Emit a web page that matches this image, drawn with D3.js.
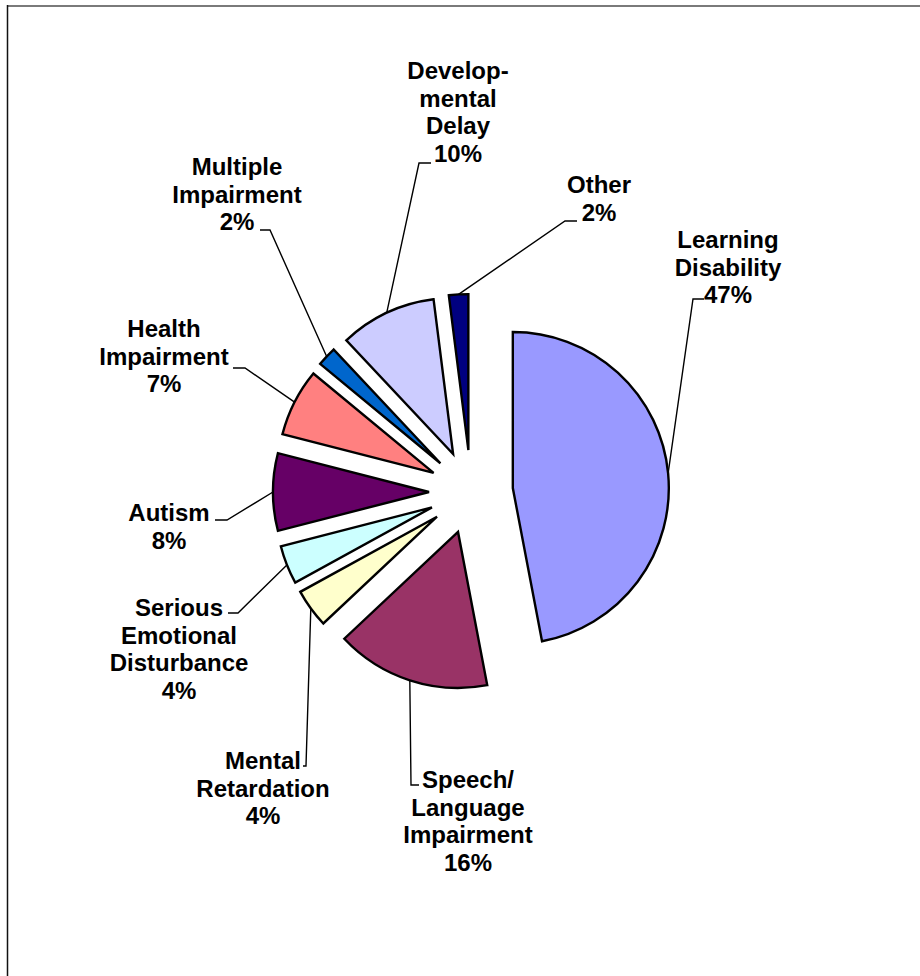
<!DOCTYPE html>
<html>
<head>
<meta charset="utf-8">
<script src="https://cdn.jsdelivr.net/npm/d3@7"></script>
<style>
  html, body { margin: 0; padding: 0; background: #fff; }
  svg { display: block; }
</style>
</head>
<body>
<svg id="chart" width="920" height="976"></svg>
<script>
// ---- data ----
const categories = ["Learning Disability", "Speech/Language Impairment", "Mental Retardation",
  "Serious Emotional Disturbance", "Autism", "Health Impairment", "Multiple Impairment",
  "Developmental Delay", "Other"];
const values = [47, 16, 4, 4, 8, 7, 2, 10, 2];
const labelLines = [
  ["Learning", "Disability"],
  ["Speech/", "Language", "Impairment"],
  ["Mental", "Retardation"],
  ["Serious", "Emotional", "Disturbance"],
  ["Autism"],
  ["Health", "Impairment"],
  ["Multiple", "Impairment"],
  ["Develop-", "mental", "Delay"],
  ["Other"]
];
const sliceColors = ["#9999FF", "#993366", "#FFFFCC", "#CCFFFF", "#660066", "#FF8080", "#0066CC", "#CCCCFF", "#000080"];

// ---- layout (label placement, not data) ----
const center = { x: 471, y: 492 };
const radius = 156;
const explode = 42;
const lineH = 27.7;
const labelLayout = [
  { cx: 728, y0: 248, elbow: [693, 299], tail: [704, 299] },
  { cx: 468, y0: 788, elbow: [411, 785], tail: [419, 785] },
  { cx: 263, y0: 769, elbow: [306, 766], tail: [303, 766] },
  { cx: 179, y0: 616, elbow: [238, 613], tail: [228, 613] },
  { cx: 169, y0: 521, elbow: [227, 520], tail: [215, 520] },
  { cx: 164, y0: 337, elbow: [245, 368], tail: [233, 368] },
  { cx: 237, y0: 175, elbow: [270, 230], tail: [260, 230] },
  { cx: 458, y0: 79,  elbow: [419, 163], tail: [431, 163] },
  { cx: 599, y0: 193, elbow: [565, 221], tail: [577, 221] }
];

const svg = d3.select("#chart");

// frame
svg.append("line").attr("x1", 7).attr("x2", 920).attr("y1", 6).attr("y2", 6)
  .attr("stroke", "#7a7a7a").attr("stroke-width", 2);
svg.append("line").attr("x1", 7.5).attr("x2", 7.5).attr("y1", 5).attr("y2", 976)
  .attr("stroke", "#111").attr("stroke-width", 1.5);

const total = d3.sum(values);
const pie = d3.pie().sort(null).value(d => d).startAngle(0).endAngle(2 * Math.PI);
const arcs = pie(values);
const arc = d3.arc().innerRadius(0).outerRadius(radius);

const g = svg.append("g").attr("transform", `translate(${center.x},${center.y})`);

// leaders
arcs.forEach((a, i) => {
  const mid = (a.startAngle + a.endAngle) / 2;
  const ox = center.x + Math.sin(mid) * (explode + radius);
  const oy = center.y - Math.cos(mid) * (explode + radius);
  const L = labelLayout[i];
  svg.append("polyline")
    .attr("points", [[ox, oy], L.elbow, L.tail].map(p => p.join(",")).join(" "))
    .attr("fill", "none").attr("stroke", "#000").attr("stroke-width", 1.4);
});

// slices
g.selectAll("path.slice").data(arcs).enter().append("path")
  .attr("class", "slice")
  .attr("transform", d => {
    const mid = (d.startAngle + d.endAngle) / 2;
    return `translate(${Math.sin(mid) * explode},${-Math.cos(mid) * explode})`;
  })
  .attr("d", arc)
  .attr("fill", (d, i) => sliceColors[i])
  .attr("stroke", "#000").attr("stroke-width", 2.4).attr("stroke-linejoin", "miter");

// labels
arcs.forEach((a, i) => {
  const L = labelLayout[i];
  const pct = Math.round(values[i] / total * 100) + "%";
  const lines = labelLines[i].concat([pct]);
  const t = svg.append("text")
    .attr("text-anchor", "middle")
    .attr("font-family", "'Liberation Sans', Arial, sans-serif")
    .attr("font-weight", "bold")
    .attr("font-size", 24)
    .attr("fill", "#000");
  lines.forEach((ln, k) => {
    t.append("tspan").attr("x", L.cx).attr("y", L.y0 + k * lineH).text(ln);
  });
});
</script>
</body>
</html>
